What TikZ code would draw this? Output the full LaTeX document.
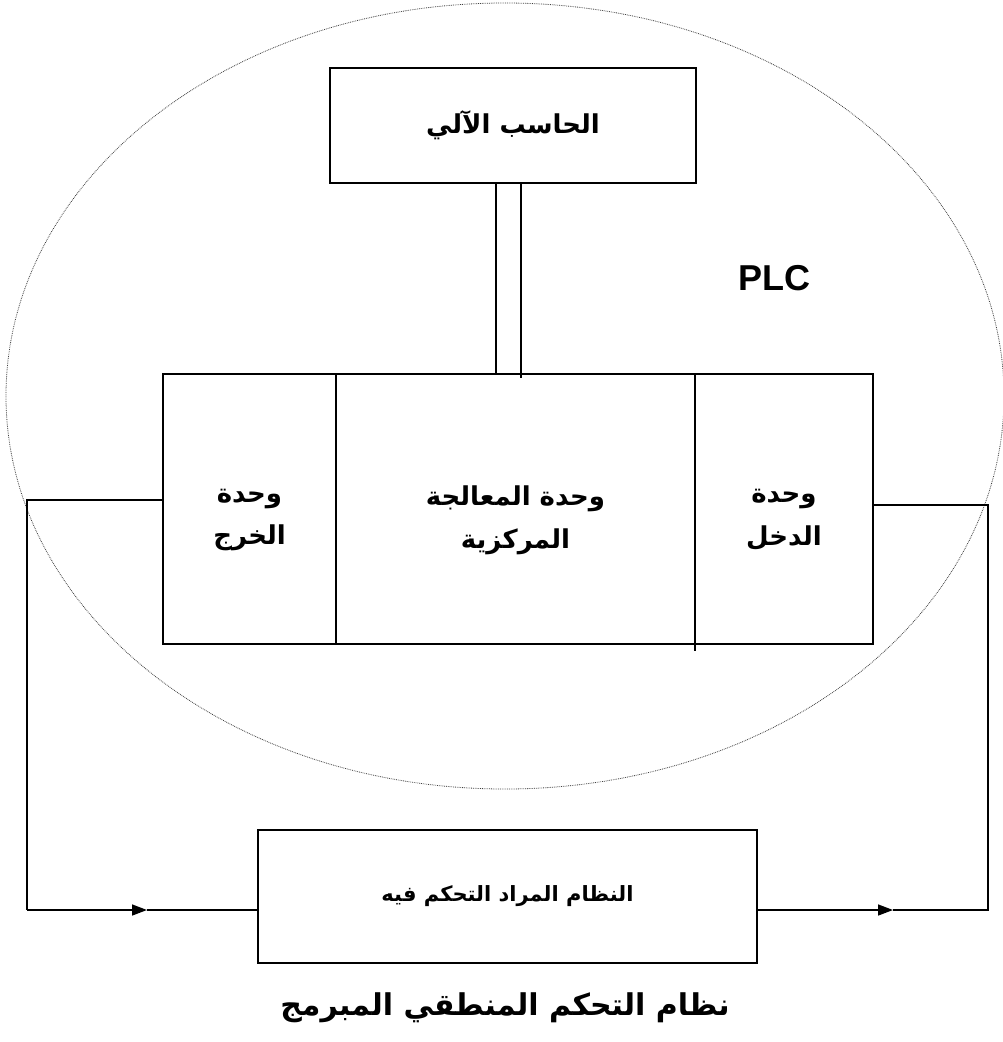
\documentclass[tikz,border=0pt]{standalone}
\usepackage{fontspec}
\setmainfont{Liberation Sans}
\newfontfamily\arabicfont[Script=Arabic]{DejaVu Sans}
\TeXXeTstate=1
\usetikzlibrary{arrows.meta}
\begin{document}
\begin{tikzpicture}[x=1pt,y=-1pt,
  frame/.style={draw, line width=2pt},
  conn/.style={draw, line width=1.5pt},
  ring/.style={draw=black!75, line width=0.8pt, densely dotted},
  tip/.style={-{Triangle[length=15pt,width=11pt]}},
  lbl/.style={inner sep=0pt, align=center, font=\arabicfont\bfseries\fontsize{26}{43}\selectfont},
  sect/.style={inner sep=0pt, minimum height=270pt}]
\useasboundingbox (0,0) rectangle (1002,1042);
\fill[white] (0,0) rectangle (1002,1042);
% PLC ring
\draw[ring] (505,396) ellipse [x radius=499, y radius=393];
% computer
\node[frame, lbl, minimum width=366pt, minimum height=115pt] (pc) at (513,125.5) {\beginR الحاسب الآلي\endR};
% PLC sections
\node[sect, minimum width=173pt] (out) at (249.5,509) {};
\node[sect, minimum width=359pt] (cpu) at (515.5,509) {};
\node[sect, minimum width=178pt] (in) at (784,509) {};
\node[lbl] (outtxt) at ([yshift=-11pt]out.center) {\beginR وحدة\endR\\\beginR الخرج\endR};
\node[lbl] (cputxt) at ([yshift=-11pt]cpu.center) {\beginR وحدة المعالجة\endR\\\beginR المركزية\endR};
\node[lbl] (intxt) at ([yshift=-11pt]in.center) {\beginR وحدة\endR\\\beginR الدخل\endR};
\draw[frame] (out.north west) rectangle (in.south east);
\draw[conn] (out.north east) -- (out.south east);
\draw[conn] (in.north west) -- ([yshift=-7pt]in.south west);
% PLC label
\node[font=\bfseries\fontsize{36}{40}\selectfont, inner sep=0pt] (plc) at (774,278) {PLC};
% double link computer - CPU
\draw[conn] ([xshift=-17pt]pc.south) -- ([xshift=-17pt]pc.south |- cpu.north);
\draw[conn] ([xshift=8pt]pc.south) -- ([xshift=8pt,yshift=-4pt]pc.south |- cpu.north);
% controlled system
\node[frame, inner sep=0pt, minimum width=499pt, minimum height=133pt,
  font=\arabicfont\bfseries\fontsize{21}{24}\selectfont] (sys) at (507.5,896.5) {\beginR النظام المراد التحكم فيه\endR};
% loop connectors
\coordinate (lc) at (27,910);
\coordinate (la) at (147,910);
\coordinate (rc) at (988,910);
\coordinate (ra) at (893,910);
\draw[conn] ([yshift=9pt]out.west) -| (lc);
\draw[conn, tip] (lc) -- (la);
\draw[conn] (la) -- (lc -| sys.west);
\draw[conn, tip] (sys.east |- rc) -- (ra);
\draw[conn] (ra) -- (rc) |- ([yshift=4pt]in.east);
% title
\node[inner sep=0pt, font=\arabicfont\bfseries\fontsize{30}{36}\selectfont] (title) at (505,1008) {\beginR نظام التحكم المنطقي المبرمج\endR};
\end{tikzpicture}
\end{document}
